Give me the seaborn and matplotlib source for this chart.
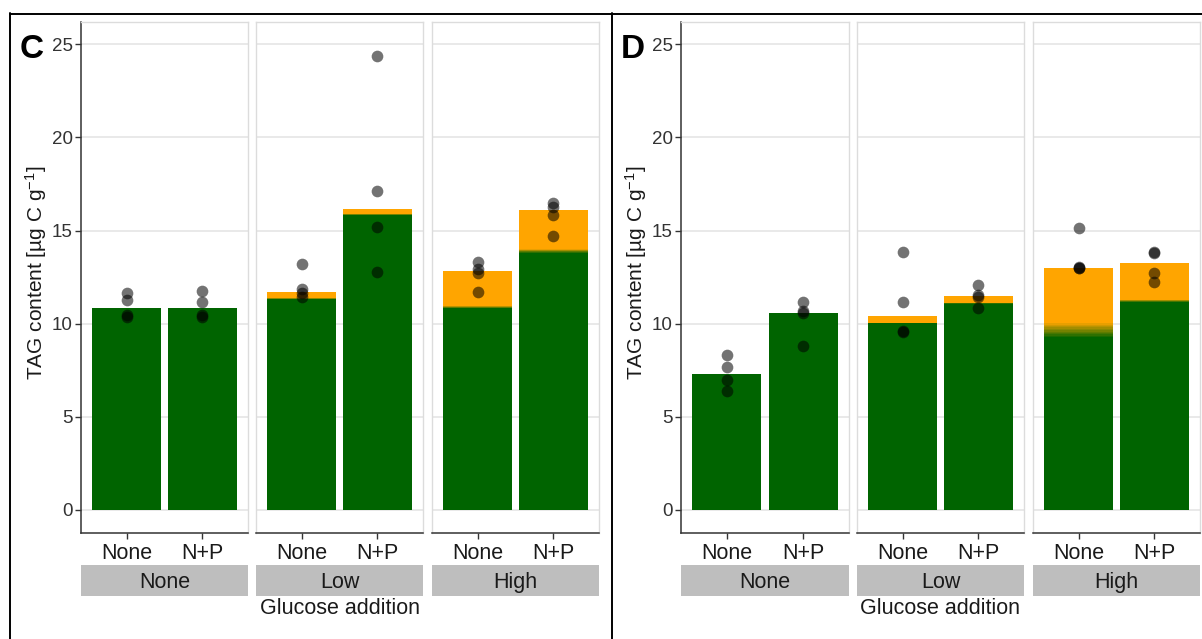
import matplotlib
matplotlib.use("Agg")
import matplotlib.pyplot as plt
from matplotlib.lines import Line2D
from matplotlib.colors import to_rgb
import seaborn as sns
import pandas as pd
import numpy as np

# ---------------- data ----------------
glucose_levels = ["None", "Low", "High"]
nutrients = ["None", "N+P"]
panels = ["C", "D"]

# bar order: (None,None) (None,N+P) (Low,None) (Low,N+P) (High,None) (High,N+P)
c_total = [10.82, 10.85, 11.70, 16.17, 12.84, 16.08]
c_green = [10.82, 10.85, 11.33, 15.84, 10.83, 13.80]
c_fade  = [10.82, 10.85, 11.38, 15.90, 10.95, 14.00]

d_total = [7.31, 10.60, 10.39, 11.47, 12.99, 13.24]
d_green = [7.31, 10.60, 10.03, 11.08, 9.28, 11.15]
d_fade  = [7.31, 10.60, 10.06, 11.12, 10.03, 11.30]

c_points = [
    [11.64, 11.28, 10.45, 10.38],
    [11.78, 11.15, 10.45, 10.35],
    [13.19, 11.85, 11.64, 11.45],
    [24.35, 17.13, 15.22, 12.80],
    [13.34, 12.93, 12.75, 11.69],
    [16.47, 16.29, 15.84, 14.73],
]
d_points = [
    [8.31, 7.67, 6.99, 6.40],
    [11.16, 10.70, 10.57, 8.82],
    [13.83, 11.18, 9.62, 9.55],
    [12.08, 11.52, 11.43, 10.84],
    [15.14, 13.02, 13.00, 12.97],
    [13.83, 13.78, 12.72, 12.24],
]

y_ticks = [0, 5, 10, 15, 20, 25]
y_label = "TAG content [µg C g$^{-1}$]"
x_label = "Glucose addition"

GREEN = "#006400"
ORANGE = "#FFA500"

# ---------------- tables ----------------
rows, prow = [], []
for pan, tot, gr, fd, pts in [("C", c_total, c_green, c_fade, c_points),
                               ("D", d_total, d_green, d_fade, d_points)]:
    i = 0
    for g in glucose_levels:
        for n in nutrients:
            rows.append(dict(panel=pan, glucose=g, nutrient=n,
                             total=tot[i], green=gr[i], fade=fd[i]))
            for v in pts[i]:
                prow.append(dict(panel=pan, glucose=g, nutrient=n, value=v))
            i += 1
bars = pd.DataFrame(rows)
points = pd.DataFrame(prow)

# ---------------- style ----------------
sns.set_theme(style="white")
plt.rcParams["font.family"] = ["Liberation Sans", "DejaVu Sans"]
plt.rcParams["mathtext.fontset"] = "custom"
plt.rcParams["mathtext.rm"] = "Liberation Sans"
plt.rcParams["mathtext.it"] = "Liberation Sans:italic"
plt.rcParams["mathtext.bf"] = "Liberation Sans:bold"

W, H = 1202, 639
fig = plt.figure(figsize=(W / 100, H / 100), dpi=100)
fig.patch.set_facecolor("white")

def frac(x0, y0, x1, y1):
    return [x0 / W, 1 - y1 / H, (x1 - x0) / W, (y1 - y0) / H]

facet_x = {
    "C": [(81, 248), (256, 423), (432, 599)],
    "D": [(681, 849), (857, 1024), (1033, 1200)],
}
AX_TOP, AX_BOT = 22, 533
STRIP_TOP, STRIP_BOT = 565, 596
YLIM = (-1.235, 26.2)
o_rgb, g_rgb = np.array(to_rgb(ORANGE)), np.array(to_rgb(GREEN))
NSTEP = 10

for pan in panels:
    for j, g in enumerate(glucose_levels):
        x0, x1 = facet_x[pan][j]
        ax = fig.add_axes(frac(x0, AX_TOP, x1, AX_BOT))
        sub = bars[(bars.panel == pan) & (bars.glucose == g)].copy()
        psub = points[(points.panel == pan) & (points.glucose == g)]

        sns.barplot(data=sub, x="nutrient", y="total", order=nutrients,
                    color=ORANGE, saturation=1, width=0.9, errorbar=None,
                    linewidth=0, ax=ax)
        # soft transition between orange and green segments
        for k in range(NSTEP):
            t = (k + 1) / (NSTEP + 1)
            col = tuple(o_rgb * (1 - t) + g_rgb * t)
            sub["h"] = sub["fade"] - (sub["fade"] - sub["green"]) * k / NSTEP
            sns.barplot(data=sub, x="nutrient", y="h", order=nutrients,
                        color=col, saturation=1, width=0.9, errorbar=None,
                        linewidth=0, ax=ax)
        sns.barplot(data=sub, x="nutrient", y="green", order=nutrients,
                    color=GREEN, saturation=1, width=0.9, errorbar=None,
                    linewidth=0, ax=ax)
        sns.stripplot(data=psub, x="nutrient", y="value", order=nutrients,
                      jitter=False, color="black", alpha=0.55, size=8.4,
                      linewidth=0, ax=ax, zorder=5)

        ax.set_xlim(-0.6, 1.6)
        ax.set_ylim(*YLIM)
        ax.set_yticks(y_ticks)
        ax.set_xlabel("")
        ax.set_ylabel("")
        ax.set_axisbelow(True)
        ax.yaxis.grid(True, color="#E3E3E3", linewidth=1.1)
        ax.xaxis.grid(False)
        ax.set_facecolor("white")
        for s in ["top", "right", "left"]:
            ax.spines[s].set_color("#DCDCDC")
            ax.spines[s].set_linewidth(1.0)
        ax.spines["bottom"].set_color("#333333")
        ax.spines["bottom"].set_linewidth(1.1)
        ax.tick_params(axis="x", bottom=True, length=4, width=1.0, color="#333333",
                       labelsize=15.5, labelcolor="#1a1a1a", pad=3)
        if j == 0:
            ax.spines["left"].set_color("#333333")
            ax.spines["left"].set_linewidth(1.1)
            ax.tick_params(axis="y", left=True, length=4, width=1.0, color="#333333",
                           labelsize=13.5, labelcolor="#333333", pad=2)
        else:
            ax.tick_params(axis="y", left=False, labelleft=False)

        # strip below facet
        sax = fig.add_axes(frac(x0, STRIP_TOP, x1, STRIP_BOT))
        sax.set_facecolor("#BEBEBE")
        for s in sax.spines.values():
            s.set_visible(False)
        sax.set_xticks([])
        sax.set_yticks([])
        sax.text(0.5, 0.45, g, ha="center", va="center", fontsize=15.5,
                 color="#1a1a1a", transform=sax.transAxes)

    xs = facet_x[pan]
    xc = (xs[0][0] + xs[2][1]) / 2
    fig.text(xc / W, 1 - 609 / H, x_label, ha="center", va="center",
             fontsize=15.5, color="#1a1a1a")
    ylx = 36 if pan == "C" else 636
    fig.text(ylx / W, 1 - 273 / H, y_label, rotation=90, ha="center",
             va="center", fontsize=15, color="#1a1a1a")
    plx = 20 if pan == "C" else 621
    fig.text(plx / W, 1 - 50 / H, pan, ha="left", va="center", fontsize=24,
             fontweight="bold", color="black")

# outer frame lines
def hline(y, x0, x1):
    fig.add_artist(Line2D([x0 / W, x1 / W], [1 - y / H, 1 - y / H],
                          color="black", linewidth=1.4, transform=fig.transFigure))
def vline(x, y0, y1):
    fig.add_artist(Line2D([x / W, x / W], [1 - y0 / H, 1 - y1 / H],
                          color="black", linewidth=1.4, transform=fig.transFigure))

hline(13.5, 10, 1202)
vline(10, 13, 639)
vline(612, 13, 639)

fig.savefig("out.png", dpi=100, facecolor="white")
